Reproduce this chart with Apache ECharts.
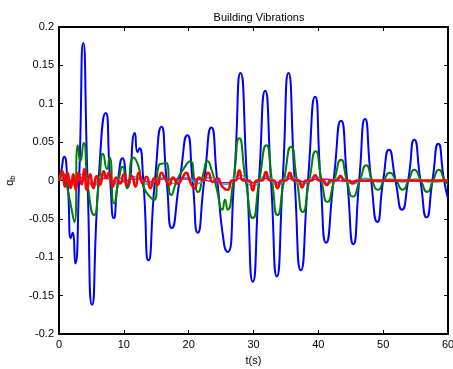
<!DOCTYPE html>
<html>
<head>
<meta charset="utf-8">
<script src="https://cdn.jsdelivr.net/npm/echarts@6/dist/echarts.min.js"></script>
<style>
  html, body { margin: 0; padding: 0; background: #fff; }
  #chart { width: 453px; height: 369px; }
</style>
</head>
<body>
<div id="chart"></div>
<script>
// ---- data: [t (s), q_b] ----
const xTicks = [0, 10, 20, 30, 40, 50, 60];
const yTicks = [-0.2, -0.15, -0.1, -0.05, 0, 0.05, 0.1, 0.15, 0.2];

const blueMode = [
  [0, 0], [0.3, 0.01], [0.8, 0.031], [1.3, 0.0], [1.85, -0.075], [2.1, -0.068], [2.5, -0.108],
  [3.1, 0.0], [3.74, 0.179], [4.4, 0.0], [5.1, -0.162], [6.1, 0.0], [7.2, 0.088], [7.9, 0.0],
  [8.45, -0.049], [9.1, 0.0], [9.8, 0.029], [10.6, -0.008], [11.7, 0.062], [12.1, 0.037],
  [12.4, 0.042], [13.0, 0.0], [13.8, -0.104], [14.8, 0.0], [15.8, 0.070], [16.6, 0.0],
  [17.4, -0.062], [18.6, 0.0], [19.8, 0.059], [20.6, 0.0], [21.4, -0.068], [22.4, 0.0],
  [23.5, 0.069], [24.4, 0.0], [25.5, -0.085], [26.0, -0.093], [27.0, 0.0], [28.0, 0.140],
  [29.0, 0.0], [29.9, -0.132], [30.85, 0.0], [31.8, 0.117], [32.7, 0.0], [33.6, -0.125],
  [34.5, 0.0], [35.4, 0.140], [36.35, 0.0], [37.3, -0.117], [38.4, 0.0], [39.5, 0.109],
  [40.35, 0.0], [41.2, -0.081], [42.35, 0.0], [43.5, 0.078], [44.45, 0.0], [45.4, -0.083],
  [46.3, 0.0], [47.2, 0.080], [48.15, 0.0], [49.1, -0.054], [50.0, 0.0], [50.9, 0.040],
  [51.9, 0.0], [52.9, -0.038], [53.85, 0.0], [54.8, 0.053], [55.75, 0.0], [56.7, -0.048],
  [57.6, 0.0], [58.5, 0.048], [59.4, 0.0], [60, -0.023]
];

const greenMode = [
  [0, 0], [0.7, 0.008], [1.4, -0.015], [2.4, -0.054], [2.9, 0.046], [3.3, 0.025], [3.8, 0.049],
  [4.5, -0.01], [5.4, -0.045], [6.2, 0.0], [6.8, 0.035], [7.4, 0.015], [7.8, 0.03], [8.5, -0.03],
  [9.2, 0.0], [9.8, 0.018], [10.5, -0.01], [11.5, 0.03], [12.2, 0.02], [12.9, -0.005],
  [14.0, -0.021], [14.7, -0.025], [15.4, 0.02], [16.0, 0.022], [16.5, 0.023], [17.3, -0.019],
  [18.2, 0.0], [19.2, 0.015], [20.2, 0.025], [21.0, -0.005], [21.4, -0.015], [22.3, 0.01],
  [22.9, 0.025], [23.6, 0.012], [24.3, -0.01], [25.2, -0.038], [25.6, -0.025], [26.0, -0.038],
  [26.9, 0.0], [27.8, 0.055], [28.8, 0.0], [29.9, -0.049], [30.9, 0.0], [32.0, 0.046],
  [32.85, 0.0], [33.7, -0.045], [34.7, 0.0], [35.8, 0.044], [36.7, 0.0], [37.6, -0.041],
  [38.6, 0.0], [39.6, 0.038], [40.5, 0.0], [41.4, -0.028], [42.45, 0.0], [43.5, 0.027],
  [44.4, 0.0], [45.3, -0.021], [46.4, 0.0], [47.4, 0.020], [48.3, 0.0], [49.2, -0.012],
  [50.1, 0.0], [51.0, 0.010], [52.0, 0.0], [53.0, -0.012], [53.9, 0.0], [54.8, 0.014],
  [55.8, 0.0], [56.8, -0.015], [57.7, 0.0], [58.6, 0.014], [59.5, 0.0], [60, -0.005]
];

const magentaMode = [
  [0, 0], [1.2, 0.003], [2.2, -0.004], [3.4, 0.004], [5.2, -0.004], [7.1, 0.003], [9, -0.002],
  [12, 0.002], [14, -0.002], [16, 0.002], [20, 0.002], [26, -0.003], [28, 0.003], [30, -0.003],
  [32, 0.003], [34, -0.003], [36, 0.003], [38, -0.002], [40, 0.002], [45, -0.001], [60, 0]
];

const cyanMode = [
  [0, 0], [1.0, 0.005], [1.8, -0.006], [2.6, -0.004], [3.3, 0.008], [4.0, 0.006], [4.6, -0.003],
  [5.4, -0.007], [6.2, 0.004], [7.0, 0.007], [7.8, 0.002], [8.5, -0.005], [9.5, 0.003],
  [10.5, -0.002], [11.6, 0.005], [12.5, 0.002], [13.8, -0.005], [15.8, 0.004], [17.4, -0.004],
  [19.8, 0.004], [21.4, -0.004], [23.3, 0.004], [25.8, -0.005], [27.9, 0.007], [29.9, -0.007],
  [31.9, 0.006], [33.7, -0.006], [35.6, 0.006], [37.5, -0.005], [39.5, 0.005], [41.3, -0.004],
  [43.4, 0.004], [45.3, -0.004], [47.3, 0.003], [49.3, -0.002], [51, 0.002], [53, -0.002],
  [55, 0.002], [57, -0.002], [60, 0]
];

const redMode = [
  [0, 0], [0.5, 0.012], [0.9, -0.008], [1.3, 0.01], [1.8, -0.01], [2.2, 0.008], [2.6, -0.012],
  [3.0, 0.01], [3.5, -0.005], [3.9, 0.015], [4.3, -0.012], [4.8, 0.008], [5.3, -0.01],
  [5.8, 0.006], [6.3, -0.006], [6.9, 0.012], [7.3, 0.003], [7.7, 0.01], [8.3, -0.008],
  [8.8, 0.004], [9.4, -0.004], [10.0, 0.008], [10.5, -0.006], [11.2, 0.006], [11.8, -0.008],
  [12.3, 0.01], [12.9, -0.003], [13.5, 0.005], [14.1, -0.01], [14.7, 0.003], [15.2, -0.006],
  [15.8, 0.01], [16.4, 0.002], [17.0, -0.006], [17.6, 0.004], [18.3, -0.004], [19.0, 0.003],
  [19.6, 0.01], [20.3, -0.003], [20.9, -0.01], [21.6, 0.004], [22.2, 0.0], [23.0, 0.01],
  [23.7, -0.002], [24.4, 0.003], [25.2, -0.008], [26.0, -0.012], [26.7, 0.0], [27.2, 0.0],
  [27.8, 0.013], [28.4, 0.0], [29.3, 0.0], [29.9, -0.013], [30.5, 0.0], [31.3, 0.0],
  [31.9, 0.011], [32.5, 0.0], [33.1, 0.0], [33.7, -0.01], [34.3, 0.0], [35.0, 0.0],
  [35.6, 0.01], [36.2, 0.0], [36.9, 0.0], [37.5, -0.009], [38.1, 0.0], [38.9, 0.0],
  [39.5, 0.007], [40.1, 0.0], [40.7, 0.0], [41.3, -0.006], [41.9, 0.0], [42.8, 0.0],
  [43.4, 0.006], [44.0, 0.0], [44.7, 0.0], [45.3, -0.004], [45.9, 0.0], [60, 0]
];

// ---- chart ----
const font = 'Liberation Sans, Arial, sans-serif';
const chart = echarts.init(document.getElementById('chart'));

const boxLine = { show: true, onZero: false, lineStyle: { color: '#000', width: 2 } };
const inTick = { show: true, inside: true, length: 4, lineStyle: { color: '#000', width: 1 } };

function lineSeries(name, data, color, width) {
  return {
    name: name,
    type: 'line',
    data: data,
    smooth: 0.65,
    showSymbol: false,
    animation: false,
    lineStyle: { color: color, width: width }
  };
}

const option = {
  animation: false,
  title: {
    text: 'Building Vibrations',
    left: 254,
    textAlign: 'center',
    top: 7,
    textStyle: { fontFamily: font, fontSize: 11, fontWeight: 'normal', color: '#000' }
  },
  grid: { left: 59, right: 5, top: 27, bottom: 35, containLabel: false, outerBoundsMode: 'none' },
  xAxis: [
    {
      type: 'value', min: xTicks[0], max: xTicks[xTicks.length - 1], interval: 10,
      name: 't(s)', nameLocation: 'middle', nameGap: 21,
      nameTextStyle: { fontFamily: font, fontSize: 11, color: '#000' },
      axisLine: boxLine, axisTick: inTick, splitLine: { show: false },
      axisLabel: { fontFamily: font, fontSize: 11, color: '#000', margin: 5 }
    },
    {
      type: 'value', position: 'top', min: 0, max: 60, interval: 10,
      axisLine: boxLine, axisTick: inTick, splitLine: { show: false },
      axisLabel: { show: false }
    }
  ],
  yAxis: [
    {
      type: 'value', min: yTicks[0], max: yTicks[yTicks.length - 1], interval: 0.05,
      name: '{q|q}{b|b}', nameLocation: 'middle', nameGap: 42,
      nameTextStyle: {
        fontFamily: font, color: '#000',
        rich: {
          q: { fontFamily: font, fontSize: 11, color: '#000' },
          b: { fontFamily: font, fontSize: 8, color: '#000', padding: [6, 0, 0, 0] }
        }
      },
      axisLine: boxLine, axisTick: inTick, splitLine: { show: false },
      axisLabel: { fontFamily: font, fontSize: 11, color: '#000', margin: 5 }
    },
    {
      type: 'value', position: 'right', min: -0.2, max: 0.2, interval: 0.05,
      axisLine: boxLine, axisTick: inTick, splitLine: { show: false },
      axisLabel: { show: false }
    }
  ],
  series: [
    lineSeries('mode 1', blueMode, '#0000ff', 2),
    lineSeries('mode 2', greenMode, '#008000', 2),
    lineSeries('mode 5', magentaMode, '#bf00bf', 1.5),
    lineSeries('mode 4', cyanMode, '#00bfbf', 1.5),
    lineSeries('mode 3', redMode, '#ff0000', 2.5)
  ]
};

chart.setOption(option);
window.addEventListener('resize', () => chart.resize());
</script>
</body>
</html>
